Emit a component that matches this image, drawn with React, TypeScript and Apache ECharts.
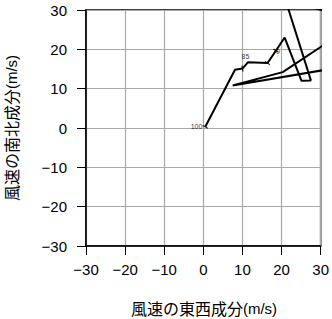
import React, { useEffect, useRef } from "react";
import * as echarts from "echarts";

// Hodograph (u, v) in m/s — last points lie outside the plotted range and are clipped
const hodoU = [0.5, 8.1, 10.0, 11.4, 16.4, 18.6, 20.8, 25.1, 27.5, 21.0, 40.0, 20.3, 7.5, 36.0];
const hodoV = [0.3, 14.8, 15.1, 16.7, 16.5, 19.7, 23.0, 12.0, 12.1, 32.6, 27.2, 14.2, 10.8, 15.6];

// pressure level marks on the curve
const levelNames = ["100", "85", "", "70"];
const levelU = [0.5, 10.0, 16.4, 18.6];
const levelV = [0.3, 15.1, 16.5, 19.7];
const levelAngle = [62, 10, 55, 57];

const tickLabels = [-30, -20, -10, 0, 10, 20, 30];
const xTitle = "風速の東西成分";
const yTitle = "風速の南北成分";
const unit = "(m/s)";

const latin = "'Liberation Sans', Arial, Helvetica, sans-serif";
const cjk = "'Noto Sans CJK JP', sans-serif";

export default function App() {
  const ref = useRef<HTMLDivElement>(null);
  useEffect(() => {
    if (!ref.current) return;
    const chart = echarts.init(ref.current, undefined, { renderer: "svg" });
    const fmt = (v: number) => String(v).replace("-", "\u2212");
    const axisCommon = {
      type: "value" as const,
      min: tickLabels[0],
      max: tickLabels[tickLabels.length - 1],
      interval: 10,
      axisLine: { show: true, onZero: false, lineStyle: { color: "#000", width: 1.5 } },
      axisTick: { show: true, inside: false, length: 9, lineStyle: { color: "#000", width: 1 } },
      splitLine: { show: true, lineStyle: { color: "#a8a8a8", width: 1.2 } },
    };
    const lineData = hodoU.map((u, i) => [u, hodoV[i]]);
    const levelData = levelNames.map((n, i) => {
      const item: any = { value: [levelU[i], levelV[i], n], symbolRotate: levelAngle[i] };
      if (i === 0) item.label = { position: "left", offset: [5, 0] };
      if (i === 1) item.label = { position: "inside", offset: [3, -12] };
      if (i === 3) item.label = { position: "inside", offset: [0, 1] };
      return item;
    });
    chart.setOption({
      animation: false,
      grid: {
        left: 86,
        right: 10,
        top: 10,
        bottom: 73,
        show: true,
        borderColor: "#000",
        borderWidth: 1.5,
        backgroundColor: "transparent",
      },
      xAxis: {
        ...axisCommon,
        axisLabel: { formatter: fmt, fontSize: 15, color: "#000", fontFamily: latin, margin: 16 },
      },
      yAxis: {
        ...axisCommon,
        axisLabel: { formatter: fmt, fontSize: 15, color: "#000", fontFamily: latin, margin: 19 },
      },
      graphic: [
        {
          type: "text",
          x: 204,
          y: 308,
          style: {
            text: `{a|${xTitle}}{b|${unit}}`,
            align: "center",
            verticalAlign: "middle",
            rich: {
              a: { fontFamily: cjk, fontSize: 16, fill: "#000" },
              b: { fontFamily: latin, fontSize: 15, fill: "#000" },
            },
          },
        },
        {
          type: "text",
          x: 11,
          y: 128,
          rotation: Math.PI / 2,
          style: {
            text: `{a|${yTitle}}{b|${unit}}`,
            align: "center",
            verticalAlign: "middle",
            rich: {
              a: { fontFamily: cjk, fontSize: 16, fill: "#000" },
              b: { fontFamily: latin, fontSize: 15, fill: "#000" },
            },
          },
        },
      ],
      series: [
        {
          type: "line",
          data: lineData,
          clip: true,
          showSymbol: false,
          symbol: "none",
          lineStyle: { color: "#000", width: 2 },
          silent: true,
        },
        {
          type: "scatter",
          data: levelData,
          symbol: "rect",
          symbolSize: [1.2, 6],
          itemStyle: { color: "#000" },
          label: {
            show: true,
            formatter: (p: any) => p.value[2],
            fontSize: 7,
            fontFamily: latin,
            color: "#000",
          },
          silent: true,
        },
      ],
    });
    return () => chart.dispose();
  }, []);
  return (
    <div
      ref={ref}
      style={{ position: "fixed", left: 0, top: 0, width: 332, height: 319, background: "#fff" }}
    />
  );
}
